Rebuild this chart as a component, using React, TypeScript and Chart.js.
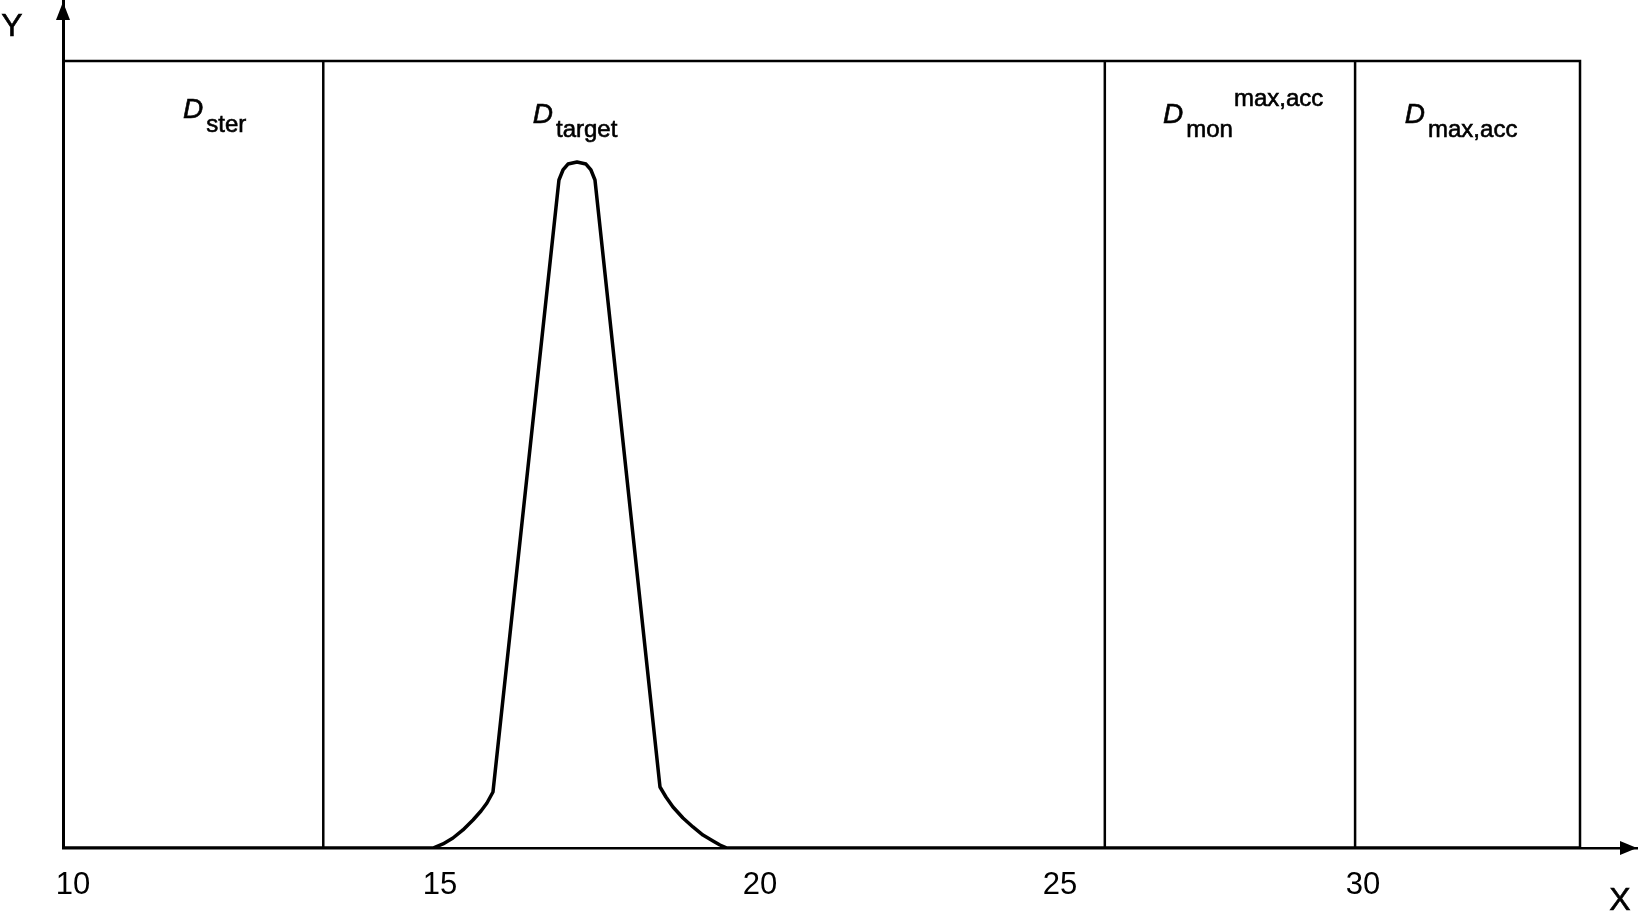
import { useEffect, useRef } from 'react';
import { Chart, registerables, LinearScale } from 'chart.js';

// x axis of the drawing is schematic: the tick spacing is not uniform,
// so the scale is piecewise linear between the labelled values
const tickValues = [10, 15, 20, 25, 30];
const xMin = 9.864;
const xMax = 34.52;
const knotValues = [xMin, 10, 15, 20, 25, 30, xMax];
const knotDecimals = [0, 0.00635, 0.2395, 0.4428, 0.6334, 0.8259, 1];
const yMax = 107.75;

// peak curve
const curveX = [
  xMin, 14.905, 15.047, 15.203, 15.359, 15.516, 15.641, 15.734, 15.828,
  16.859, 16.922, 17.0, 17.141, 17.281, 17.359, 17.422,
  18.438, 18.531, 18.641, 18.797, 18.953, 19.109, 19.266, 19.375, 19.484, 33.58,
];
const curveY = [
  0, 0, 0.51, 1.27, 2.29, 3.56, 4.7, 5.72, 7.12,
  84.88, 86.15, 86.91, 87.17, 86.91, 86.15, 84.88,
  7.75, 6.48, 5.21, 3.81, 2.67, 1.65, 0.89, 0.38, 0, 0,
];

// region boundaries and frame
const dividerX = [13.41, 25.74, 29.87];
const frameRight = 33.58;
const frameTop = 100;

// region labels: D with subscript / superscript
const regionSub = ['ster', 'target', 'mon', 'max,acc'];
const regionSup = ['', '', 'max,acc', ''];
const regionLabelX = [11.5, 16.45, 26.7, 30.69];
const regionLabelY = [92.8, 92.1, 92.1, 92.1];

const FONT = '"Liberation Sans", Arial, sans-serif';

function interp(v: number, from: number[], to: number[]) {
  let i = 0;
  while (i < from.length - 2 && v > from[i + 1]) i++;
  const t = (v - from[i]) / (from[i + 1] - from[i]);
  return to[i] + t * (to[i + 1] - to[i]);
}

class PiecewiseScale extends LinearScale {
  static id = 'piecewise';
  static defaults = LinearScale.defaults;
  getPixelForValue(value: number) {
    return this.getPixelForDecimal(interp(value, knotValues, knotDecimals));
  }
  getValueForPixel(pixel: number) {
    return interp(this.getDecimalForPixel(pixel), knotDecimals, knotValues);
  }
}

Chart.register(...registerables, PiecewiseScale);

// text slightly heavier, like the scanned original
function heavyText(ctx: CanvasRenderingContext2D, text: string, x: number, y: number) {
  ctx.fillText(text, x, y);
  ctx.strokeText(text, x, y);
}

const decorPlugin = {
  id: 'decor',
  afterDatasetsDraw(chart: any) {
    const { ctx, scales } = chart;
    const xs = scales.x;
    const ys = scales.y;
    ctx.save();
    ctx.fillStyle = '#000';
    ctx.strokeStyle = '#000';
    ctx.lineWidth = 0.6;

    // arrow heads
    const ox = xs.getPixelForValue(xMin);
    const oy = ys.getPixelForValue(0);
    const tipY = ys.getPixelForValue(yMax) + 2;
    ctx.beginPath();
    ctx.moveTo(ox, tipY);
    ctx.lineTo(ox - 7, tipY + 18);
    ctx.lineTo(ox + 7, tipY + 18);
    ctx.closePath();
    ctx.fill();
    const tipX = xs.getPixelForValue(xMax);
    ctx.beginPath();
    ctx.moveTo(tipX, oy);
    ctx.lineTo(tipX - 17, oy - 7);
    ctx.lineTo(tipX - 17, oy + 7);
    ctx.closePath();
    ctx.fill();

    // axis letters
    ctx.font = `32px ${FONT}`;
    ctx.textBaseline = 'alphabetic';
    ctx.textAlign = 'center';
    heavyText(ctx, 'Y', 12, 36);
    heavyText(ctx, 'X', tipX - 17, oy + 62);

    // region labels
    ctx.textAlign = 'left';
    regionSub.forEach((sub, i) => {
      const px = xs.getPixelForValue(regionLabelX[i]);
      const py = ys.getPixelForValue(regionLabelY[i]);
      ctx.font = `italic 28px ${FONT}`;
      heavyText(ctx, 'D', px, py);
      const dW = ctx.measureText('D').width;
      ctx.font = `24px ${FONT}`;
      const sx = px + dW + 3;
      heavyText(ctx, sub, sx, py + 14);
      if (regionSup[i]) {
        const subW = ctx.measureText(sub).width;
        heavyText(ctx, regionSup[i], sx + subW + 1, py - 17);
      }
    });
    ctx.restore();
  },
};

export default function App() {
  const canvasRef = useRef<HTMLCanvasElement>(null);
  const chartRef = useRef<Chart | null>(null);

  useEffect(() => {
    document.body.style.margin = '0';
    const ctx = canvasRef.current?.getContext('2d');
    if (!ctx) return;

    const datasets: any[] = [
      {
        label: 'curve',
        data: curveX.map((x, i) => ({ x, y: curveY[i] })),
        borderColor: '#000',
        borderWidth: 3.5,
        pointRadius: 0,
        tension: 0,
        borderJoinStyle: 'round',
        fill: false,
      },
      {
        label: 'frame',
        data: [
          { x: xMin, y: frameTop },
          { x: frameRight, y: frameTop },
          { x: frameRight, y: 0 },
        ],
        borderColor: '#000',
        borderWidth: 2.5,
        pointRadius: 0,
        tension: 0,
        fill: false,
      },
      ...dividerX.map((x) => ({
        label: 'divider',
        data: [
          { x, y: 0 },
          { x, y: frameTop },
        ],
        borderColor: '#000',
        borderWidth: 2.5,
        pointRadius: 0,
        tension: 0,
        fill: false,
      })),
    ];

    chartRef.current = new Chart(ctx, {
      type: 'line',
      data: { datasets },
      options: {
        animation: false,
        responsive: true,
        maintainAspectRatio: false,
        layout: { padding: { left: 0, right: 5, top: 0, bottom: 0 } },
        plugins: {
          legend: { display: false },
          tooltip: { enabled: false },
        },
        scales: {
          x: {
            type: 'piecewise',
            min: xMin,
            max: xMax,
            grid: { display: false },
            border: { display: true, color: '#000', width: 2.5 },
            afterBuildTicks: (axis: any) => {
              axis.ticks = tickValues.map((v) => ({ value: v }));
            },
            afterFit: (scale: any) => {
              scale.height = 66;
            },
            ticks: {
              color: '#000',
              font: { family: FONT, size: 31 },
              padding: 11,
              maxRotation: 0,
              autoSkip: false,
            },
          } as any,
          y: {
            type: 'linear',
            min: 0,
            max: yMax,
            grid: { display: false },
            border: { display: true, color: '#000', width: 3 },
            ticks: { display: false },
            afterFit: (scale: any) => {
              scale.width = 63;
            },
          },
        },
      },
      plugins: [decorPlugin],
    });

    return () => {
      chartRef.current?.destroy();
      chartRef.current = null;
    };
  }, []);

  return (
    <div style={{ position: 'fixed', left: 0, top: 0, width: 1642, height: 914, background: '#fff' }}>
      <canvas ref={canvasRef}></canvas>
    </div>
  );
}
